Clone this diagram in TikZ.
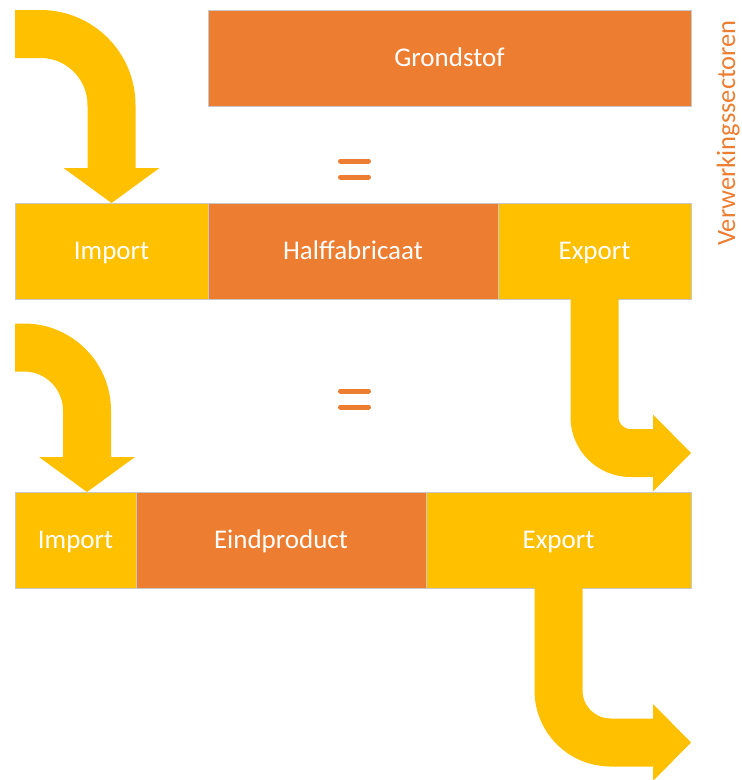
\documentclass[tikz,border=0pt]{standalone}
\usepackage{fontspec}
\setmainfont{Carlito}
\usepackage{tikz}
\usepackage{xcolor}
\usetikzlibrary{positioning, arrows.meta}

\definecolor{oranje}{HTML}{ED7D31}
\definecolor{goud}{HTML}{FFC000}

\begin{document}
\begin{tikzpicture}[x=1pt,y=-1pt,node distance=0pt,
        flow/.style={draw=goud,line width=48pt}]
        \tikzstyle{blok}=[draw=black!22,line width=0.8pt,minimum height=96pt,inner sep=0pt,outer sep=0pt,text=white,text height=17pt,text depth=0pt,font=\fontsize{27}{32}\selectfont]
        \tikzstyle{product}=[blok,fill=oranje]
        \tikzstyle{handel}=[blok,fill=goud]
        \tikzstyle{kop}=[-{Triangle[width=96pt,length=35pt,line width=0pt]}]
        \tikzstyle{staart}=[-{Triangle[width=77pt,length=38pt,line width=0pt]}]

        \useasboundingbox (0,0) rectangle (742,780);

        \node[product,minimum width=483pt,anchor=north west] (grond) at (208,10) {Grondstof};

        \node[handel,minimum width=193pt,anchor=north west] (imp1) at (15,203) {Import};
        \node[product,minimum width=290pt] (half) [right=of imp1] {Halffabricaat};
        \node[handel,minimum width=193pt]  (exp1) [right=of half] {Export};

        \node[handel,minimum width=121pt,anchor=north west] (imp2) at (15,492) {Import};
        \node[product,minimum width=290pt] (eind) [right=of imp2] {Eindproduct};
        \node[handel,minimum width=265pt]  (exp2) [right=of eind] {Export};

        \node[rotate=90,anchor=base west,inner sep=0pt,text=oranje,font=\fontsize{26.5}{32}\selectfont] (sector) at (735,246) {Verwerkingssectoren};

        % in- en uitgaande stromen
        \coordinate (in1) at (15,34);
        \coordinate (in2) at (15,347.5);
        \coordinate (uit1) at (691,453);
        \coordinate (uit2) at (691,742.5);

        \draw[flow,kop,rounded corners=71pt] (in1) -| (imp1.north);
        \draw[flow,kop,rounded corners=63pt] (in2) -| ([xshift=11.5pt]imp2.north);
        \draw[flow,staart,rounded corners=36pt] (exp1.south) |- (uit1);
        \draw[flow,staart,rounded corners=52pt] (exp2.south) |- (uit2);

        % gelijktekens
        \foreach \y in {161,177,391,407}
            \draw[oranje,line width=5pt,line cap=round] (340.5,\y) -- (368.5,\y);
\end{tikzpicture}
\end{document}
